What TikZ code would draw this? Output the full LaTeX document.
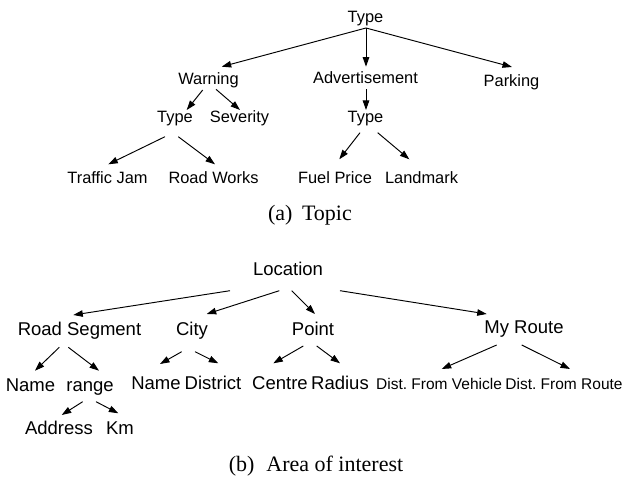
\documentclass[tikz,border=0pt]{standalone}
\usepackage{fontspec}
\setmainfont{Liberation Serif}
\newfontfamily\labelfont{Liberation Sans}
\usetikzlibrary{arrows.meta,calc}
\frenchspacing

\tikzset{
  lbl/.style={anchor=base, inner sep=0pt, font=\labelfont\fontsize{16.4}{18}\selectfont},
  lblb/.style={anchor=base, inner sep=0pt, font=\labelfont\fontsize{18.5}{20}\selectfont},
  lbls/.style={anchor=base, inner sep=0pt, font=\labelfont\fontsize{15.5}{17}\selectfont},
  capt/.style={anchor=base, inner sep=0pt, font=\fontsize{22}{24}\selectfont},
  arr/.style={line width=0.95pt, -{Triangle[length=9.5pt,width=6.5pt]}}
}

\begin{document}
\begin{tikzpicture}[x=1pt, y=-1pt]
\useasboundingbox (0,0) rectangle (625,478);
\fill[white] (0,0) rectangle (625,478);

% ---- (a) Topic ----
\node[lbl] (t0) at (365.5,22.5) {Type};
\node[lbl] (w)  at (208.5,84.5) {Warning};
\node[lbl] (ad) at (365.5,83.5) {Advertisement};
\node[lbl] (pk) at (511.5,86.5) {Parking};
\node[lbl] (wt) at (175,122.5) {Type};
\node[lbl] (sv) at (239.5,122.5) {Severity};
\node[lbl] (at) at (365.5,122.5) {Type};
\node[lbl] (tj) at (107.5,183.3) {Traffic Jam};
\node[lbl] (rw) at (213.5,183.3) {Road Works};
\node[lbl] (fp) at (335,183.3) {Fuel Price};
\node[lbl] (lm) at (421.5,183.3) {Landmark};
\node[capt] (capa) at (310,221) {(a)\hskip 9.5pt Topic};

\draw[arr] ($(t0.base)+(0.5,5.5)$) -- ($(w.base)+(13.2,-17.8)$);
\draw[arr] ($(t0.base)+(0.5,5.5)$) -- ($(ad.base)+(0.5,-16.8)$);
\draw[arr] ($(t0.base)+(0.5,5.5)$) -- ($(pk.base)+(0.5,-19.5)$);
\draw[arr] ($(w.base)+(-5.8,5.5)$) -- ($(wt.base)+(11.7,-12.5)$);
\draw[arr] ($(w.base)+(7.5,4.8)$) -- ($(sv.base)+(0.5,-12.5)$);
\draw[arr] ($(ad.base)+(0.5,5.8)$) -- ($(at.base)+(0.5,-12.5)$);
\draw[arr] ($(wt.base)+(-10,14.2)$) -- ($(tj.base)+(0.8,-19)$);
\draw[arr] ($(wt.base)+(3.3,14.2)$) -- ($(rw.base)+(1.5,-19)$);
\draw[arr] ($(at.base)+(-5.5,10.2)$) -- ($(fp.base)+(4.3,-24)$);
\draw[arr] ($(at.base)+(12.2,10.2)$) -- ($(lm.base)+(-12.2,-24)$);

% ---- (b) Area of interest ----
\node[lblb] (loc)  at (288,276) {Location};
\node[lblb] (rs)   at (79.5,336) {Road Segment};
\node[lblb] (ci)   at (192,336) {City};
\node[lblb] (pt)   at (313,336) {Point};
\node[lblb] (mr)   at (524,334) {My Route};
\node[lblb] (n1)   at (30.5,391.5) {Name};
\node[lblb] (rg)   at (90,391.5) {range};
\node[lblb] (n2)   at (156,390) {Name};
\node[lblb] (di)   at (213,390) {District};
\node[lblb] (ce)   at (280,390) {Centre};
\node[lblb] (ra)   at (340,390) {Radius};
\node[lbls] (dv)   at (439,389.3) {Dist. From Vehicle};
\node[lbls] (dr)   at (564,389.3) {Dist. From Route};
\node[lblb] (addr) at (59,435) {Address};
\node[lblb] (km)   at (120,435) {Km};
\node[capt] (capb) at (316,472) {(b)\hskip 12pt Area of interest};

\draw[arr] ($(loc.base)+(-58,14.7)$) -- ($(rs.base)+(-6.2,-21)$);
\draw[arr] ($(loc.base)+(-8.7,14.7)$) -- ($(ci.base)+(14.7,-22)$);
\draw[arr] ($(loc.base)+(3.7,14.7)$) -- ($(pt.base)+(2,-22)$);
\draw[arr] ($(loc.base)+(52,14.7)$) -- ($(mr.base)+(-37.3,-20)$);
\draw[arr] ($(rs.base)+(-20.2,11.3)$) -- ($(n1.base)+(4.5,-20.8)$);
\draw[arr] ($(rs.base)+(-11.2,11.3)$) -- ($(rg.base)+(9,-20.8)$);
\draw[arr] ($(ci.base)+(-10.3,15.7)$) -- ($(n2.base)+(4,-26)$);
\draw[arr] ($(ci.base)+(3,15.7)$) -- ($(di.base)+(5.3,-26.7)$);
\draw[arr] ($(pt.base)+(-9.7,10)$) -- ($(ce.base)+(-6.7,-26.7)$);
\draw[arr] ($(pt.base)+(3.7,10)$) -- ($(ra.base)+(0,-26.7)$);
\draw[arr] ($(mr.base)+(-27.3,11)$) -- ($(dv.base)+(2.7,-20.3)$);
\draw[arr] ($(mr.base)+(-2.3,11)$) -- ($(dr.base)+(6,-20.3)$);
\draw[arr] ($(rg.base)+(-7.3,10.2)$) -- ($(addr.base)+(2.7,-20)$);
\draw[arr] ($(rg.base)+(6,10.2)$) -- ($(km.base)+(-1.7,-21.7)$);
\end{tikzpicture}
\end{document}
